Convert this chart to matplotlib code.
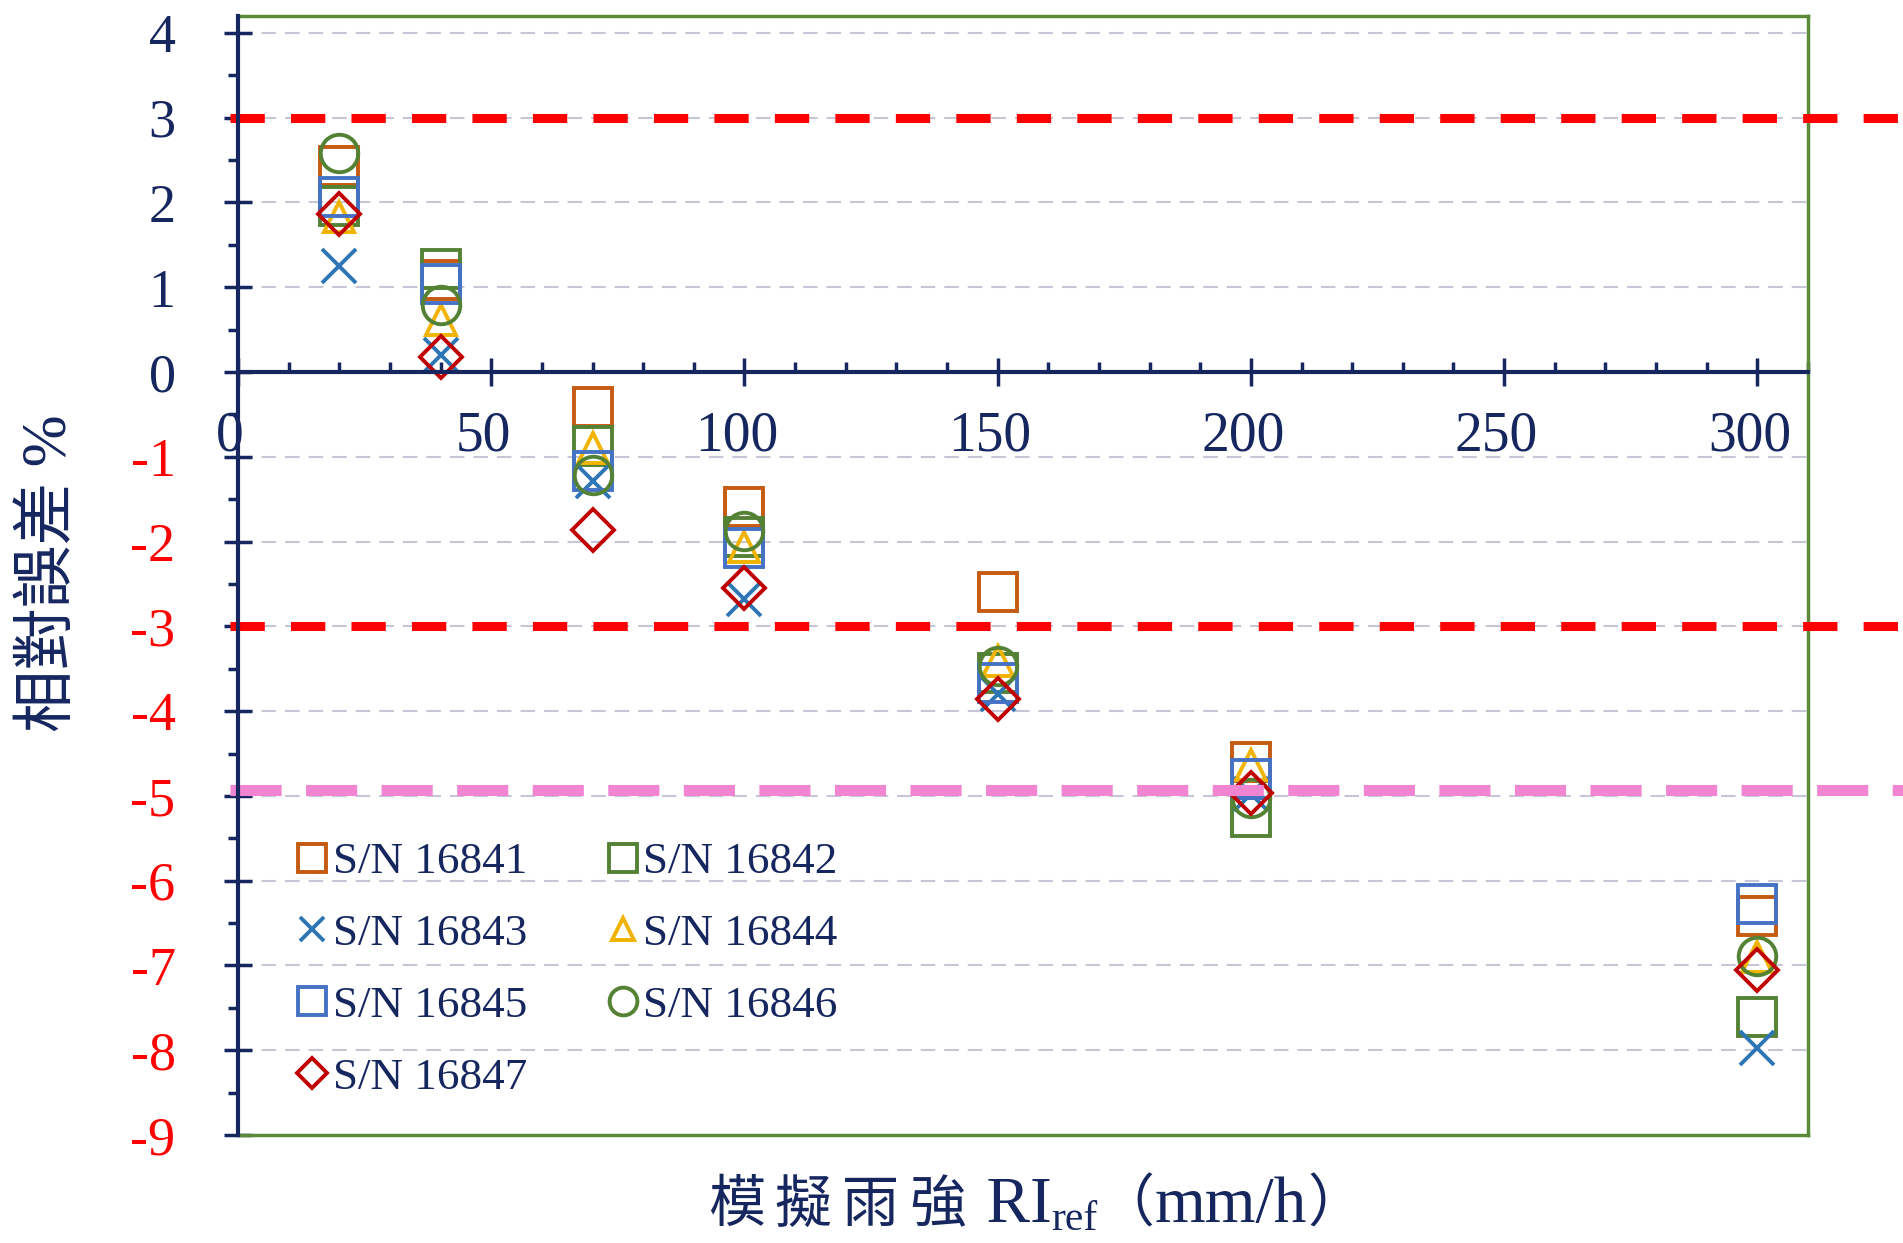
import matplotlib
matplotlib.use('Agg')
import matplotlib.pyplot as plt
from matplotlib.ticker import MultipleLocator
from matplotlib.transforms import ScaledTranslation

plt.rcParams['font.family'] = ['Liberation Serif', 'Noto Sans CJK TC']
plt.rcParams['axes.unicode_minus'] = False

# ---------------- data ----------------
x_vals = [20, 40, 70, 100, 150, 200, 300]
sn_16841 = [2.43, 1.09, -0.41, -1.59, -2.59, -4.60, -6.42]
sn_16842 = [1.96, 1.22, -0.87, -1.95, -3.55, -5.25, -7.61]
sn_16843 = [1.25, 0.20, -1.29, -2.68, -3.80, -4.98, -7.97]
sn_16844 = [1.83, 0.61, -0.90, -2.06, -3.41, -4.64, -6.90]
sn_16845 = [2.06, 1.04, -1.17, -2.08, -3.67, -4.80, -6.27]
sn_16846 = [2.58, 0.79, -1.21, -1.87, -3.47, -5.02, -6.89]
sn_16847 = [1.86, 0.18, -1.86, -2.55, -3.86, -4.97, -7.05]
series_labels = ['S/N 16841', 'S/N 16842', 'S/N 16843', 'S/N 16844',
                 'S/N 16845', 'S/N 16846', 'S/N 16847']
upper_limit = 3
lower_limit = -3
pink_limit = -4.93
x_ticks = [0, 50, 100, 150, 200, 250, 300]
y_ticks = list(range(-9, 5))

NAVY = '#16265f'
GREEN = '#5a8a3a'
W, H = 1903, 1243

series = [sn_16841, sn_16842, sn_16843, sn_16844, sn_16845, sn_16846, sn_16847]
markers = ['s', 's', 'x', '^', 's', 'o', 'D']
colors = ['#c55a11', '#548235', '#2e75b6', '#f0b400', '#4472c4', '#548235', '#c00000']
msizes = [27, 27, 24, 22, 27, 27, 21]

fig = plt.figure(figsize=(W / 100, H / 100), dpi=100)
ax = fig.add_axes([238 / W, 1 - 1135 / H, 1570 / W, 1119 / H])
ax.set_xlim(0, 310)
ax.set_ylim(-9, 4.2)

# grid
for yv in y_ticks:
    if yv in (-9, 0):
        continue
    ax.axhline(yv, color='#c6c6d6', lw=1.5, dashes=(7, 4.3), zorder=0.5)

handles = []
for vals, m, c, ms, lab in zip(series, markers, colors, msizes, series_labels):
    h, = ax.plot(x_vals, vals, linestyle='none', marker=m, ms=ms, mfc='none',
                 mec=c, mew=2.8, label=lab, zorder=3)
    handles.append(h)

# limit lines (extend beyond the axes)
ax.plot([-1.5, 340], [upper_limit, upper_limit], color='#ff0000', lw=6.5,
        dashes=(3.8, 2.9), clip_on=False, zorder=4)
ax.plot([-1.5, 340], [lower_limit, lower_limit], color='#ff0000', lw=6.5,
        dashes=(3.8, 2.9), clip_on=False, zorder=4)
ax.plot([-1.5, 340], [pink_limit, pink_limit], color='#f285d2', lw=8,
        dashes=(4.6, 2.2), clip_on=False, zorder=4)

# spines
ax.spines['bottom'].set_position(('data', 0))
ax.spines['bottom'].set_color(NAVY)
ax.spines['bottom'].set_linewidth(3)
ax.spines['left'].set_color(NAVY)
ax.spines['left'].set_linewidth(3)
for s in ('top', 'right'):
    ax.spines[s].set_color(GREEN)
    ax.spines[s].set_linewidth(2.5)
ax.plot([0, 1], [0, 0], transform=ax.transAxes, color=GREEN, lw=2.5,
        clip_on=False, zorder=5)
ax.spines['bottom'].set_zorder(6)
ax.spines['left'].set_zorder(6)

# ticks
ax.set_xticks(x_ticks)
ax.set_xticklabels([str(t) for t in x_ticks])
ax.xaxis.set_minor_locator(MultipleLocator(10))
ax.set_yticks(y_ticks)
ax.set_yticklabels([str(t) for t in y_ticks])
ax.yaxis.set_minor_locator(MultipleLocator(0.5))
ax.tick_params(axis='x', which='major', direction='inout', length=20, width=2.5,
               color=NAVY, labelsize=40, labelcolor=NAVY, pad=18)
ax.tick_params(axis='x', which='minor', direction='in', length=7, width=2.5, color=NAVY)
ax.tick_params(axis='y', which='major', direction='inout', length=20, width=2.5,
               color=NAVY, labelsize=39, pad=35)
ax.tick_params(axis='y', which='minor', direction='out', length=7, width=2.5, color=NAVY)
for lab, t in zip(ax.get_yticklabels(), y_ticks):
    lab.set_color('#ff0000' if t < 0 else NAVY)
shift = ScaledTranslation(-8 / 100, 0, fig.dpi_scale_trans)
for lab in ax.get_xticklabels():
    lab.set_transform(lab.get_transform() + shift)

# legend (row-wise order)
order = [0, 2, 4, 6, 1, 3, 5]
leg = ax.legend([handles[i] for i in order], [series_labels[i] for i in order],
                ncol=2, loc='upper left', bbox_to_anchor=(0.037, 0.262),
                frameon=False, fontsize=32.5, markerscale=0.74, handlelength=0.72,
                handletextpad=0.1, columnspacing=1.75, labelspacing=0.69,
                borderpad=0, borderaxespad=0, labelcolor=NAVY)

# y label
fig.text(51 / W, 1 - 573 / H, '相對誤差 %', rotation=90, ha='center',
         va='center', fontsize=45, color=NAVY)

# x label built from pieces (different sizes, subscript, spaced CJK)
renderer = fig.canvas.get_renderer()
base_y = 1222
# (text, fontsize, vertical drop px, gap after px)
pieces = [('模', 41, 0, 10), ('擬', 41, 0, 10), ('雨', 41, 0, 10), ('強', 41, 0, 4),
          (' RI', 47, 0, 0), ('ref', 30, 8, 0),
          ('（', 41, 0, 0), ('mm/h', 47, 0, 0), ('）', 41, 0, 0)]
texts = []
for s, fs, drop, gap in pieces:
    t = fig.text(0, 1 - (base_y + drop) / H, s, fontsize=fs, color=NAVY,
                 va='baseline', ha='left')
    texts.append(t)
widths = [t.get_window_extent(renderer).width + p[3] for t, p in zip(texts, pieces)]
x0 = 1036 - sum(widths) / 2
for t, w in zip(texts, widths):
    t.set_x(x0 / W)
    x0 += w

fig.savefig('out.png', dpi=100)
